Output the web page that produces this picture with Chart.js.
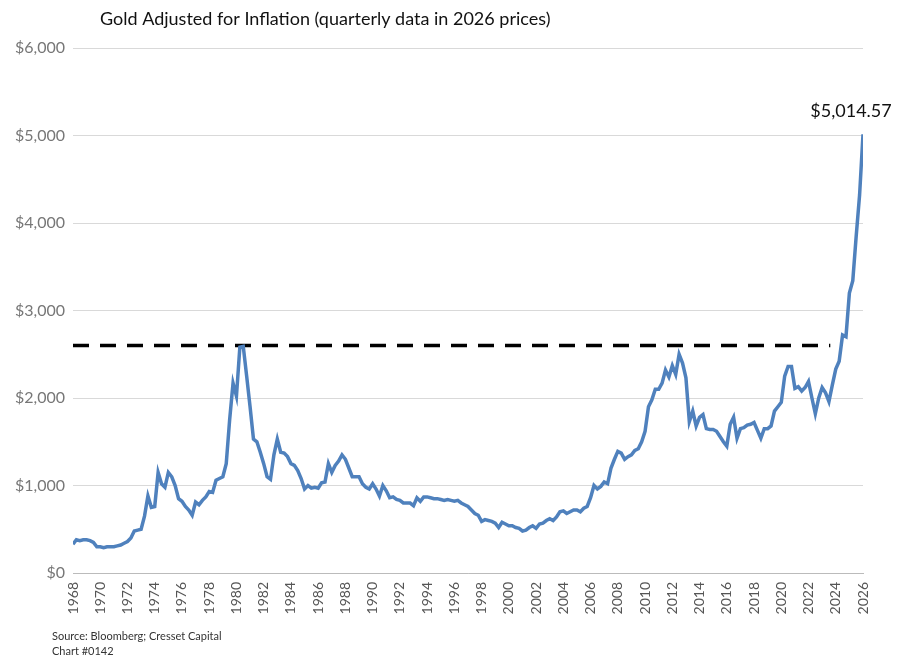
<!DOCTYPE html>
<html>
<head>
<meta charset="utf-8">
<script src="https://cdn.jsdelivr.net/npm/chart.js@4"></script>
<style>
  body { margin: 0; background: #fff; }
  #wrap { width: 923px; height: 671px; }
</style>
</head>
<body>
<div id="wrap"><canvas id="gold-chart"></canvas></div>
<script>
const startYear = 1968;
const goldValues = [
  330, 380, 370, 380,     // 1968
  380, 370, 350, 300,     // 1969
  300, 290, 300, 300,     // 1970
  300, 310, 320, 340,     // 1971
  360, 400, 480, 490,     // 1972
  500, 650, 880, 750,     // 1973
  760, 1150, 1020, 980,   // 1974
  1150, 1100, 1000, 850,  // 1975
  820, 760, 720, 660,     // 1976
  810, 780, 830, 870,     // 1977
  930, 920, 1060, 1080,   // 1978
  1100, 1250, 1750, 2170, // 1979
  2020, 2580, 2590, 2250, // 1980
  1900, 1530, 1500, 1380, // 1981
  1250, 1100, 1070, 1350, // 1982
  1530, 1380, 1370, 1330, // 1983
  1250, 1230, 1170, 1080, // 1984
  960, 1000, 970, 980,    // 1985
  970, 1030, 1040, 1250,  // 1986
  1150, 1230, 1280, 1350, // 1987
  1300, 1200, 1100, 1100, // 1988
  1100, 1020, 980, 960,   // 1989
  1020, 960, 880, 1000,   // 1990
  940, 860, 870, 840,     // 1991
  830, 800, 800, 800,     // 1992
  770, 860, 820, 870,     // 1993
  870, 860, 850, 850,     // 1994
  840, 830, 840, 830,     // 1995
  820, 830, 800, 780,     // 1996
  760, 720, 680, 660,     // 1997
  590, 610, 600, 590,     // 1998
  570, 520, 580, 560,     // 1999
  540, 540, 520, 510,     // 2000
  480, 490, 520, 540,     // 2001
  510, 560, 570, 600,     // 2002
  620, 600, 640, 700,     // 2003
  710, 680, 700, 720,     // 2004
  720, 700, 740, 760,     // 2005
  860, 1000, 960, 990,    // 2006
  1040, 1020, 1200, 1300, // 2007
  1390, 1370, 1300, 1330, // 2008
  1350, 1400, 1420, 1500, // 2009
  1620, 1900, 1980, 2100, // 2010
  2100, 2170, 2320, 2240, // 2011
  2370, 2270, 2500, 2400, // 2012
  2230, 1730, 1850, 1680, // 2013
  1780, 1810, 1650, 1640, // 2014
  1640, 1620, 1560, 1500, // 2015
  1450, 1700, 1780, 1540, // 2016
  1650, 1660, 1690, 1700, // 2017
  1720, 1630, 1540, 1650, // 2018
  1650, 1680, 1850, 1900, // 2019
  1950, 2250, 2360, 2360, // 2020
  2110, 2130, 2080, 2120, // 2021
  2190, 2000, 1820, 2000, // 2022
  2120, 2060, 1960, 2150, // 2023
  2330, 2420, 2720, 2700, // 2024
  3200, 3340, 3850, 4320, // 2025
  5014.57                 // 2026
];
const prevPeak = 2600;
const prevPeakRange = [1968, 2023.6];
const yTicks = [0, 1000, 2000, 3000, 4000, 5000, 6000];

const goldPoints = goldValues.map((v, i) => ({ x: startYear + i / 4, y: v }));

const extras = {
  id: 'extras',
  afterDraw(chart) {
    const c = chart.ctx;
    const last = goldPoints[goldPoints.length - 1];
    const px = chart.scales.x.getPixelForValue(last.x);
    const py = chart.scales.y.getPixelForValue(last.y);
    c.save();
    c.fillStyle = '#111';
    c.font = '18px Lato';
    c.textAlign = 'center';
    c.fillText('$5,014.57', px - 12, py - 17);
    c.textAlign = 'left';
    c.fillText('Gold Adjusted for Inflation (quarterly data in 2026 prices)', 100, 25);
    c.fillStyle = '#333';
    c.font = '11px Lato';
    c.fillText('Source: Bloomberg; Cresset Capital', 52, 640);
    c.fillText('Chart #0142', 52, 655);
    c.restore();
  }
};

new Chart(document.getElementById('gold-chart'), {
  type: 'line',
  data: {
    datasets: [
      {
        data: goldPoints,
        borderColor: '#4f81bd',
        borderWidth: 3.5,
        pointRadius: 0,
        tension: 0
      },
      {
        data: prevPeakRange.map(x => ({ x: x, y: prevPeak })),
        borderColor: '#000',
        borderWidth: 3.5,
        borderDash: [16, 11],
        pointRadius: 0
      }
    ]
  },
  options: {
    responsive: true,
    maintainAspectRatio: false,
    animation: false,
    layout: { padding: { top: 48, right: 60, bottom: 46, left: 0 } },
    plugins: { legend: { display: false }, tooltip: { enabled: false } },
    scales: {
      x: {
        type: 'linear',
        min: 1968, max: 2026,
        afterBuildTicks: axis => { axis.ticks = []; for (let y = 1968; y <= 2026; y += 2) axis.ticks.push({ value: y }); },
        grid: { display: false, tickLength: 6, color: '#bbb' },
        border: { color: '#bbb' },
        ticks: { color: '#555', font: { family: 'Lato', size: 14 }, minRotation: 90, maxRotation: 90, callback: v => String(v) },
        afterFit: axis => { axis.height = 52; }
      },
      y: {
        min: 0, max: 6000,
        afterBuildTicks: axis => { axis.ticks = yTicks.map(v => ({ value: v })); },
        grid: { color: '#d9d9d9', drawTicks: false },
        border: { display: false },
        ticks: { color: '#777', font: { family: 'Lato', size: 16 }, padding: 8, callback: v => '$' + v.toLocaleString('en-US') },
        afterFit: axis => { axis.width = 73; }
      }
    }
  },
  plugins: [extras]
});
</script>
</body>
</html>
